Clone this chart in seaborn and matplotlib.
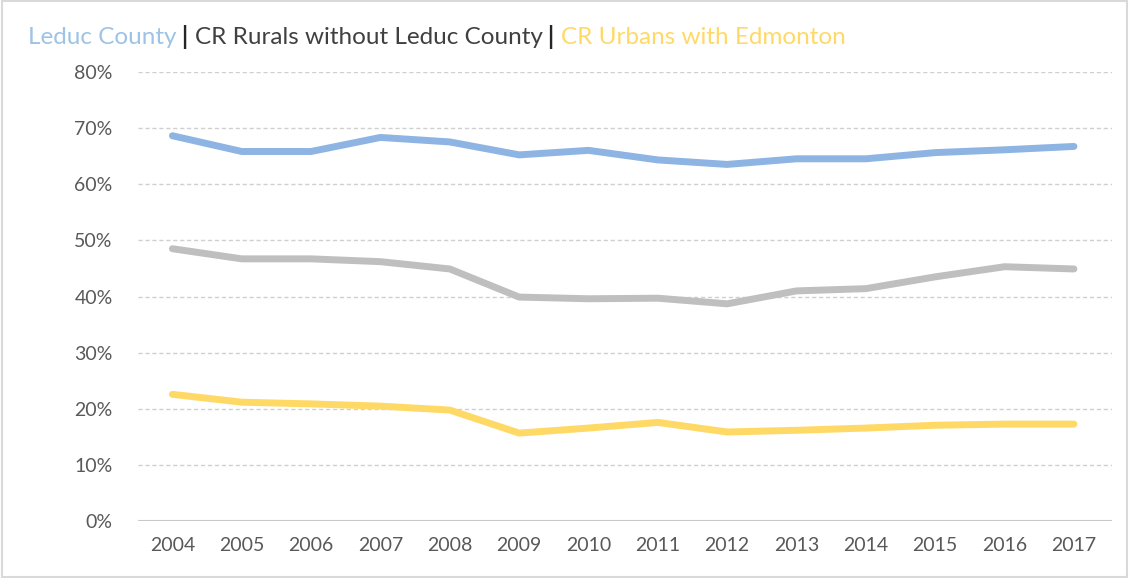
import matplotlib
matplotlib.use("Agg")
import matplotlib.pyplot as plt
import seaborn as sns
import pandas as pd
from matplotlib.ticker import PercentFormatter

# data (percent)
years = list(range(2004, 2018))
leduc = [68.6, 65.8, 65.8, 68.3, 67.5, 65.2, 66.0, 64.3, 63.5, 64.5, 64.5, 65.6, 66.1, 66.7]
rurals = [48.5, 46.7, 46.7, 46.2, 44.9, 39.9, 39.6, 39.7, 38.7, 41.0, 41.4, 43.5, 45.3, 44.9]
urbans = [22.6, 21.2, 20.9, 20.5, 19.8, 15.7, 16.6, 17.6, 15.9, 16.2, 16.6, 17.1, 17.3, 17.3]

names = ['Leduc County', 'CR Rurals without Leduc County', 'CR Urbans with Edmonton']
line_colors = ['#8DB4E2', '#BFBFBF', '#FFD966']
title_colors = ['#9DC3E6', '#404040', '#FFD966']

df = pd.DataFrame({'year': years * 3,
                   'value': leduc + rurals + urbans,
                   'series': [names[0]] * 14 + [names[1]] * 14 + [names[2]] * 14})

sns.set_style('white')
plt.rcParams['font.family'] = ['Lato', 'DejaVu Sans']

fig = plt.figure(figsize=(11.29, 5.78), dpi=100)
ax = fig.add_axes([0.122, 0.098, 0.863, 0.778])

sns.lineplot(data=df, x='year', y='value', hue='series', palette=dict(zip(names, line_colors)),
             linewidth=5, legend=False, ax=ax, solid_capstyle='round')

ax.set_ylim(0, 80)
ax.set_yticks(range(0, 81, 10))
ax.yaxis.set_major_formatter(PercentFormatter(decimals=0))
ax.set_xlim(2003.5, 2017.55)
ax.set_xticks(years)
ax.set_xlabel('')
ax.set_ylabel('')
ax.tick_params(axis='both', length=0, labelsize=14, colors='#595959', pad=11)
ax.tick_params(axis='y', pad=18)
for y in range(10, 81, 10):
    ax.axhline(y, color='#D0D0D0', linestyle=(0, (3, 2)), linewidth=1, zorder=0)
ax.axhline(0, color='#C8C8C8', linewidth=1.5, zorder=0)
for s in ax.spines.values():
    s.set_visible(False)

# multi-coloured title
fig.canvas.draw()
r = fig.canvas.get_renderer()
pieces = [(names[0], title_colors[0], 'normal'), (' | ', '#262626', 'bold'),
          (names[1], title_colors[1], 'normal'), (' | ', '#262626', 'bold'),
          (names[2], title_colors[2], 'normal')]
x = 28 / 1129
for txt, c, w in pieces:
    t = fig.text(x, 1 - 37 / 578, txt, color=c, fontsize=17.5, fontweight=w, va='center', ha='left')
    bb = t.get_window_extent(renderer=r)
    x += bb.width / fig.bbox.width

# light frame around the figure
fig.patches.append(plt.Rectangle((0.002, 0.002), 0.996, 0.996, transform=fig.transFigure,
                                 fill=False, edgecolor='#D9D9D9', linewidth=1.5))

fig.savefig('out.png', dpi=100)
